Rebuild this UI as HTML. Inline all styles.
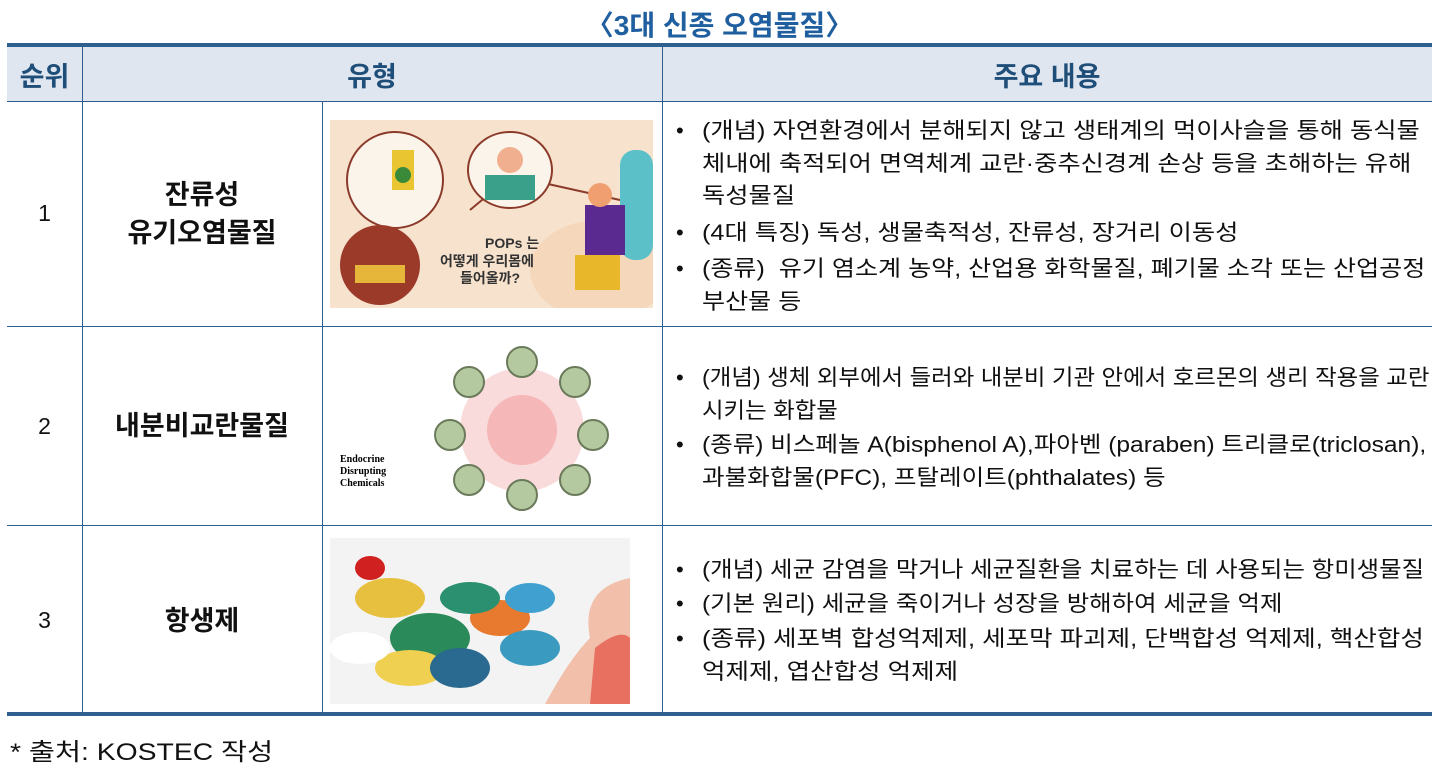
<!DOCTYPE html>
<html><head><meta charset="utf-8"><style>
body{margin:0;width:1439px;height:774px;background:#fff;position:relative;overflow:hidden;font-family:"Liberation Sans","Noto Sans CJK KR",sans-serif;color:#111}
.a{position:absolute}
.t{font-size:22px;white-space:nowrap;line-height:32px}
.h{font-weight:bold;color:#1f4e79;font-size:27px}
.vl{position:absolute;width:1px;background:#2e5f8f}
.hl{position:absolute;height:1px;background:#2e5f8f;left:7px;width:1425px}
.b{position:absolute;left:676px;font-size:22px;line-height:32px}
.tx{position:absolute;left:702px;font-size:22px;line-height:32.5px;white-space:nowrap;transform:scaleX(1.15);transform-origin:0 0}
.nm{position:absolute;font-weight:bold;font-size:27px;text-align:center;width:240px;left:82px;line-height:38px}
.n{position:absolute;left:7px;width:75px;text-align:center;font-size:23px}
</style></head><body>
<div class="a h" style="left:0;width:1439px;text-align:center;top:4px;font-size:28px;color:#1f5f9f">〈3대 신종 오염물질〉</div>
<div class="a" style="left:7px;top:43px;width:1425px;height:58px;background:#dfe6f0"></div>
<div class="a" style="left:7px;top:43px;width:1425px;height:4px;background:#2e5f8f"></div>
<div class="a" style="left:7px;top:712px;width:1425px;height:4px;background:#2e5f8f"></div>
<div class="hl" style="top:101px"></div>
<div class="hl" style="top:326px"></div>
<div class="hl" style="top:525px"></div>
<div class="vl" style="left:82px;top:47px;height:665px"></div>
<div class="vl" style="left:322px;top:101px;height:611px"></div>
<div class="vl" style="left:662px;top:47px;height:665px"></div>
<div class="a h" style="left:7px;width:75px;text-align:center;top:55px">순위</div>
<div class="a h" style="left:82px;width:580px;text-align:center;top:55px">유형</div>
<div class="a h" style="left:662px;width:770px;text-align:center;top:55px">주요 내용</div>

<div class="n" style="top:200px">1</div>
<div class="n" style="top:413px">2</div>
<div class="n" style="top:607px">3</div>
<div class="nm" style="top:176px">잔류성<br>유기오염물질</div>
<div class="nm" style="top:407px">내분비교란물질</div>
<div class="nm" style="top:602px">항생제</div>

<!-- image 1 -->
<svg class="a" style="left:330px;top:120px" width="323" height="188">
<rect width="323" height="188" fill="#f7e2cd"/>
<path d="M140 90 L200 40 M60 80 L60 120 M200 60 L290 80" stroke="#8b3a2a" stroke-width="2"/>
<circle cx="65" cy="60" r="48" fill="#fbf4ea" stroke="#8b3a2a" stroke-width="2"/>
<rect x="62" y="30" width="22" height="40" fill="#e9c531"/><circle cx="73" cy="55" r="8" fill="#3a8a3a"/>
<circle cx="50" cy="145" r="40" fill="#9c3a2a"/><rect x="25" y="145" width="50" height="18" fill="#e6b63a"/>
<ellipse cx="180" cy="50" rx="42" ry="38" fill="#fbf4ea" stroke="#8b3a2a" stroke-width="2"/>
<rect x="155" y="55" width="50" height="25" fill="#3aa08a"/>
<circle cx="180" cy="40" r="13" fill="#f0b090"/>
<ellipse cx="270" cy="150" rx="70" ry="50" fill="#f5d7bb"/>
<rect x="290" y="30" width="33" height="110" rx="15" fill="#5bc0c8"/>
<rect x="255" y="85" width="40" height="50" fill="#5a2a90"/>
<rect x="245" y="135" width="45" height="35" fill="#e9b82a"/>
<circle cx="270" cy="75" r="12" fill="#f0a070"/>
<text x="155" y="128" font-size="14" font-weight="bold" fill="#333" font-family="Liberation Sans,Noto Sans CJK KR,sans-serif">POPs 는</text>
<text x="110" y="146" font-size="14" font-weight="bold" fill="#333" font-family="Liberation Sans,Noto Sans CJK KR,sans-serif">어떻게 우리몸에</text>
<text x="130" y="163" font-size="14" font-weight="bold" fill="#333" font-family="Liberation Sans,Noto Sans CJK KR,sans-serif">들어올까?</text>
</svg>
<!-- image 2 -->
<svg class="a" style="left:335px;top:340px" width="310" height="175">
<circle cx="187" cy="90" r="62" fill="#f9d2d2" opacity="0.8"/>
<circle cx="187" cy="90" r="35" fill="#f5b7b7"/>
<g fill="#b5c9a0" stroke="#6a7a5a" stroke-width="2">
<circle cx="187" cy="22" r="15"/><circle cx="240" cy="42" r="15"/><circle cx="258" cy="95" r="15"/><circle cx="240" cy="140" r="15"/><circle cx="187" cy="155" r="15"/><circle cx="134" cy="140" r="15"/><circle cx="115" cy="95" r="15"/><circle cx="134" cy="42" r="15"/></g>
<text x="5" y="122" font-size="10" font-weight="bold" font-family="Liberation Serif,serif">Endocrine</text>
<text x="5" y="134" font-size="10" font-weight="bold" font-family="Liberation Serif,serif">Disrupting</text>
<text x="5" y="146" font-size="10" font-weight="bold" font-family="Liberation Serif,serif">Chemicals</text>
</svg>
<!-- image 3 -->
<svg class="a" style="left:330px;top:538px" width="300" height="166">
<rect width="300" height="166" fill="#f3f3f3"/>
<g><ellipse cx="60" cy="60" rx="35" ry="20" fill="#e8c040"/><ellipse cx="100" cy="100" rx="40" ry="25" fill="#2a8a5a"/><ellipse cx="170" cy="80" rx="30" ry="18" fill="#e87a30"/><ellipse cx="200" cy="110" rx="30" ry="18" fill="#3a9ac0"/><ellipse cx="80" cy="130" rx="35" ry="18" fill="#f0d050"/><ellipse cx="130" cy="130" rx="30" ry="20" fill="#2a6a90"/><ellipse cx="30" cy="110" rx="30" ry="16" fill="#fff"/><ellipse cx="140" cy="60" rx="30" ry="16" fill="#2a9070"/><ellipse cx="40" cy="30" rx="15" ry="12" fill="#d02020"/><ellipse cx="200" cy="60" rx="25" ry="15" fill="#40a0d0"/></g>
<path d="M215 166 Q240 120 260 100 Q250 50 300 40 L300 166 Z" fill="#f2c0aa"/>
<path d="M260 166 L265 110 Q290 90 300 100 L300 166Z" fill="#e87060"/>
</svg>

<div class="b" style="top:115px">•</div>
<div class="tx" style="top:115px;transform:scaleX(1.15)">(개념) 자연환경에서 분해되지 않고 생태계의 먹이사슬을 통해 동식물<br>체내에 축적되어 면역체계 교란·중추신경계 손상 등을 초해하는 유해<br>독성물질</div>
<div class="b" style="top:217px">•</div>
<div class="tx" style="top:217px;transform:scaleX(1.15)">(4대 특징) 독성, 생물축적성, 잔류성, 장거리 이동성</div>
<div class="b" style="top:253px">•</div>
<div class="tx" style="top:253px;transform:scaleX(1.14)">(종류)&nbsp; 유기 염소계 농약, 산업용 화학물질, 폐기물 소각 또는 산업공정<br>부산물 등</div>

<div class="b" style="top:362px">•</div>
<div class="tx" style="top:362px;transform:scaleX(1.065)">(개념) 생체 외부에서 들러와 내분비 기관 안에서 호르몬의 생리 작용을 교란<br>시키는 화합물</div>
<div class="b" style="top:429px">•</div>
<div class="tx" style="top:429px;transform:scaleX(1.115)">(종류) 비스페놀 A(bisphenol A),파아벤 (paraben) 트리클로(triclosan),<br>과불화합물(PFC), 프탈레이트(phthalates) 등</div>

<div class="b" style="top:554px">•</div>
<div class="tx" style="top:554px;transform:scaleX(1.11)">(개념) 세균 감염을 막거나 세균질환을 치료하는 데 사용되는 항미생물질</div>
<div class="b" style="top:588px">•</div>
<div class="tx" style="top:588px;transform:scaleX(1.11)">(기본 원리) 세균을 죽이거나 성장을 방해하여 세균을 억제</div>
<div class="b" style="top:623px">•</div>
<div class="tx" style="top:623px;transform:scaleX(1.16)">(종류) 세포벽 합성억제제, 세포막 파괴제, 단백합성 억제제, 핵산합성<br>억제제, 엽산합성 억제제</div>

<div class="a t" style="left:10px;top:737px;font-size:24px;transform:scaleX(1.18);transform-origin:0 0">* 출처: KOSTEC 작성</div>
</body></html>
